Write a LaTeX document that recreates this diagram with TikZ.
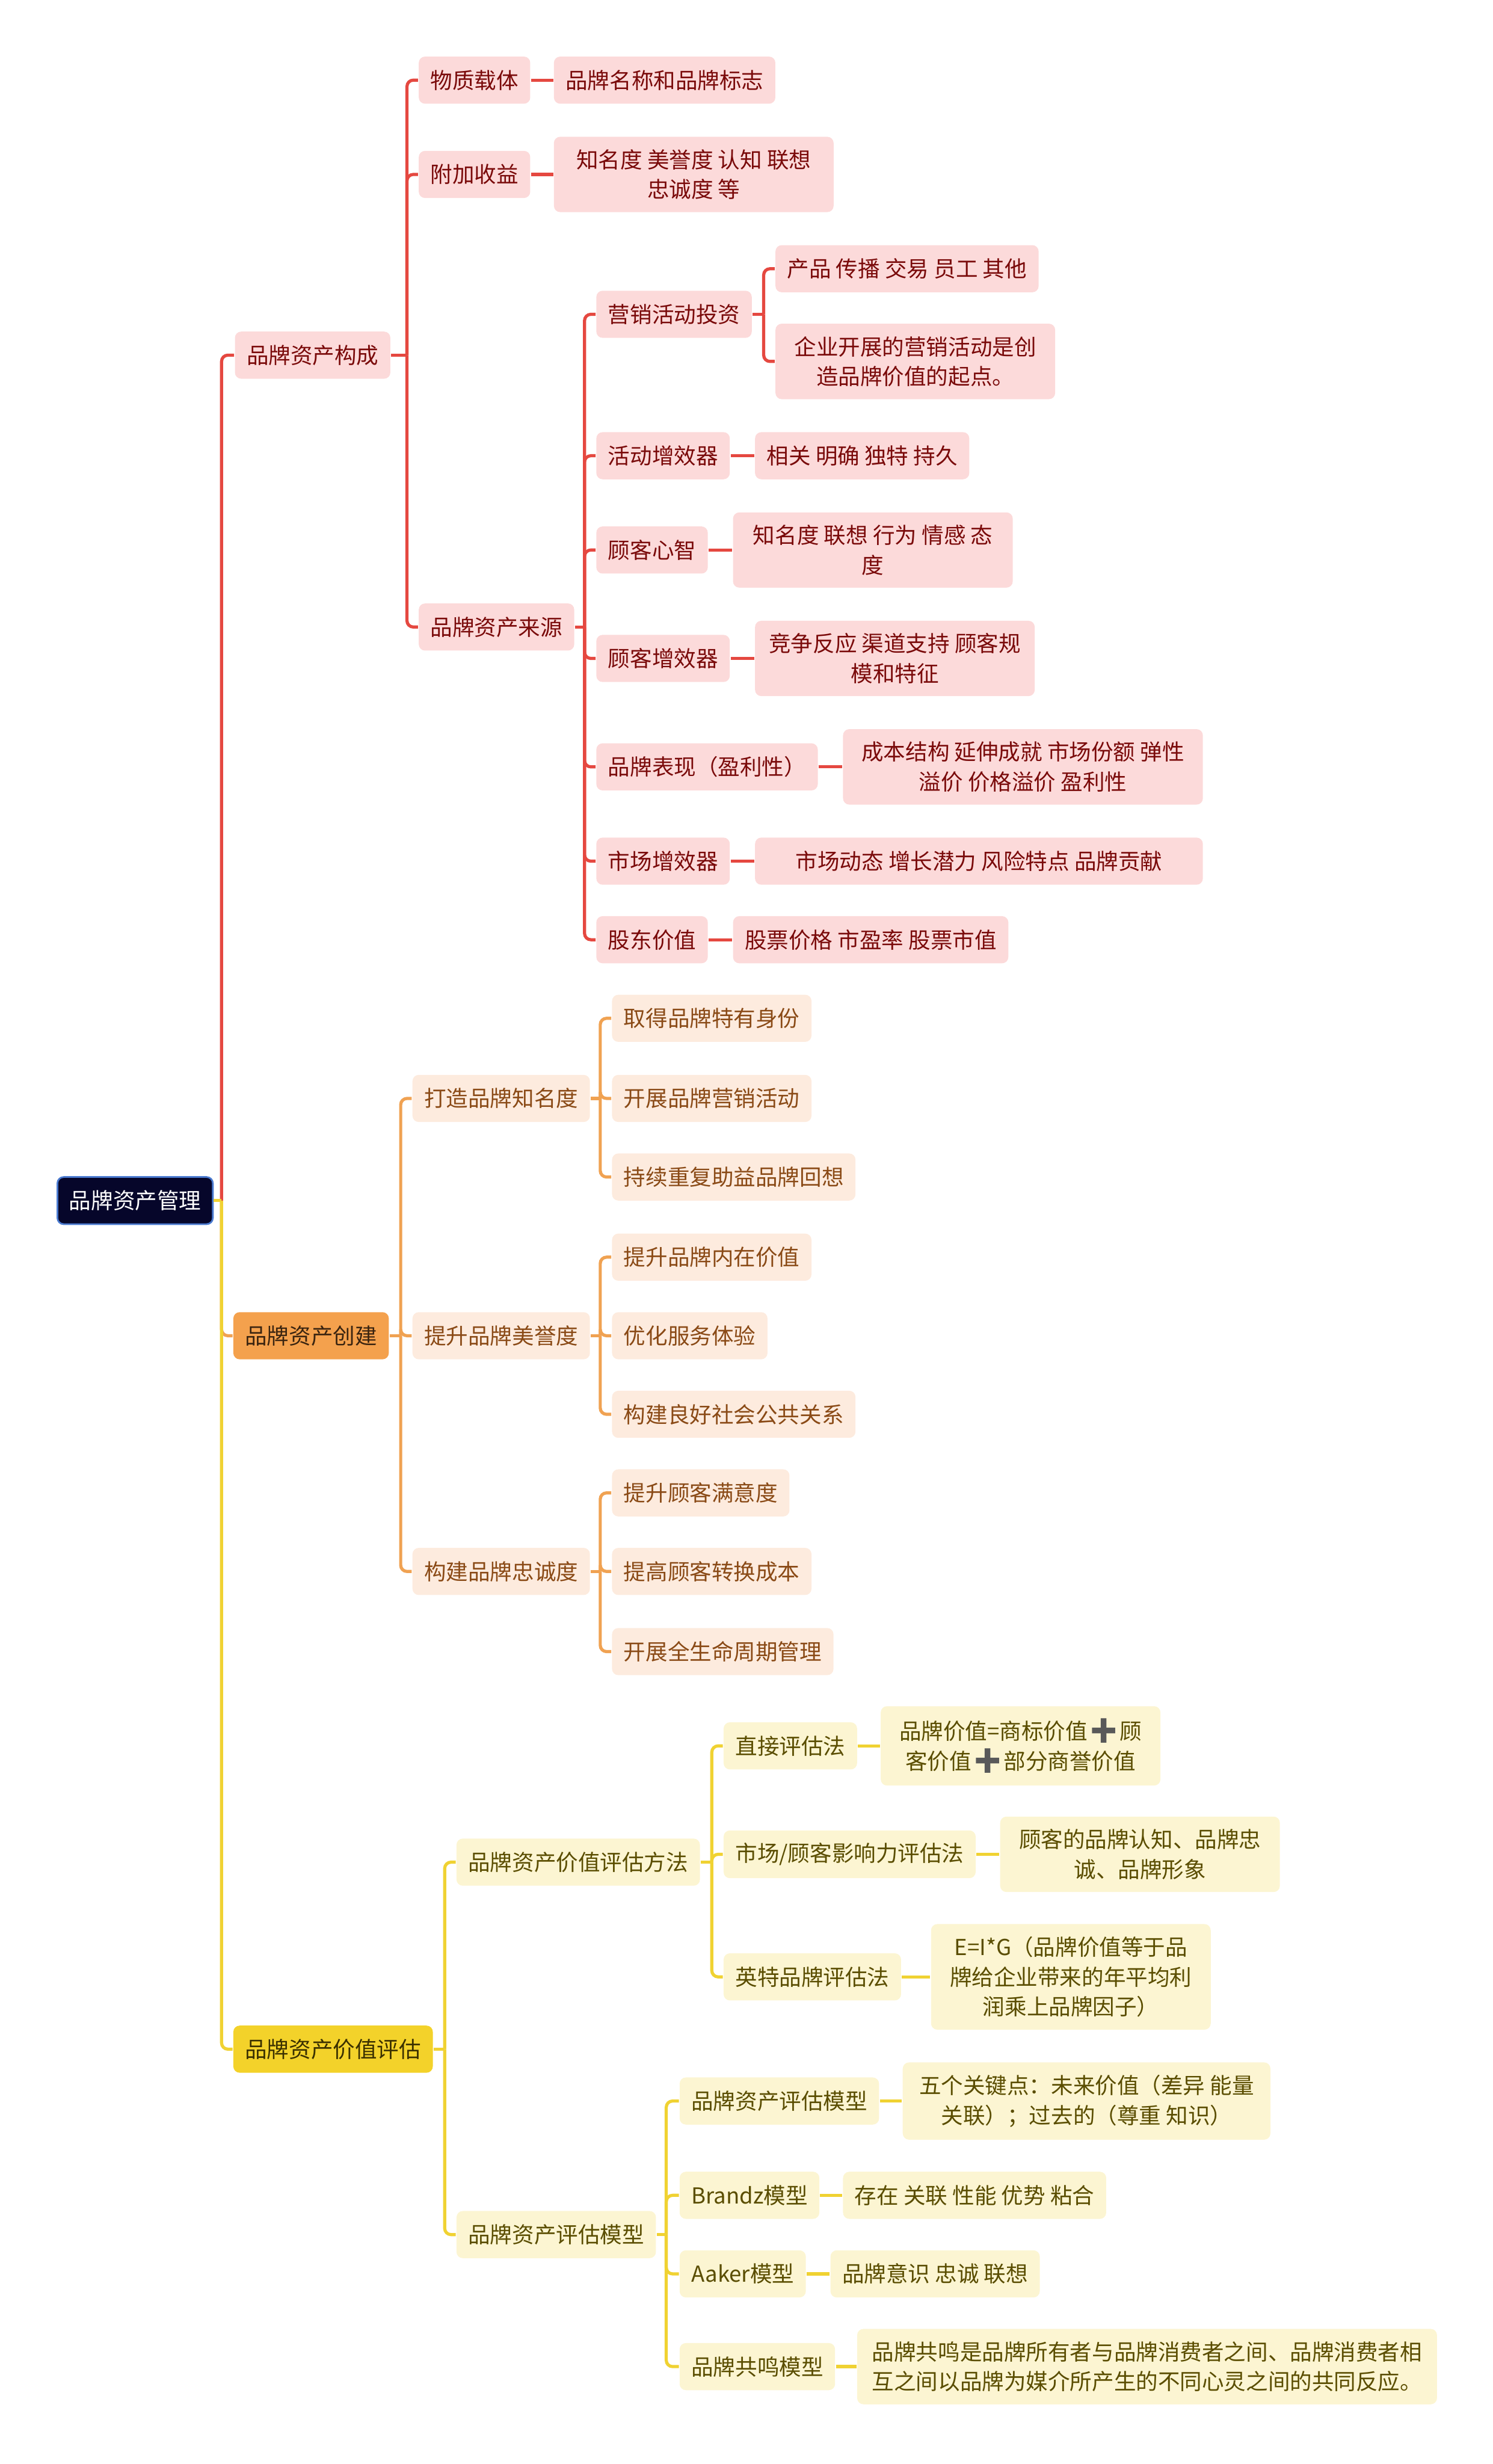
\documentclass[tikz,border=0pt]{standalone}
\usepackage{fontspec}
\usepackage{graphicx}
\setmainfont{Noto Sans CJK SC}
\newfontfamily\emojifont{Noto Emoji}
\newcommand{\plusmark}{{\emojifont\textcolor{gray!70!black}{\scalebox{1.15}{➕}}}}

\definecolor{rootfill}{RGB}{6,6,42}
\definecolor{rootdraw}{RGB}{74,122,208}
\definecolor{redline}{RGB}{229,72,64}
\definecolor{redfill}{RGB}{252,218,218}
\definecolor{redtext}{RGB}{122,10,10}
\definecolor{orgline}{RGB}{240,162,82}
\definecolor{orgmain}{RGB}{244,161,77}
\definecolor{orgfill}{RGB}{253,235,222}
\definecolor{orgtext}{RGB}{138,74,22}
\definecolor{orgdark}{RGB}{58,36,16}
\definecolor{yelline}{RGB}{240,210,50}
\definecolor{yelmain}{RGB}{243,210,42}
\definecolor{yelfill}{RGB}{252,245,210}
\definecolor{yeltext}{RGB}{90,77,0}
\definecolor{yeldark}{RGB}{58,48,0}

\tikzset{every picture/.style={line width=0.75pt}}
\tikzset{
  box/.style={rounded corners=3pt, inner xsep=5.6pt, inner ysep=6pt, minimum height=22.5pt,
    anchor=west, align=center, font=\fontsize{10.5pt}{14.2pt}\selectfont},
  rootbox/.style={box, fill=rootfill, draw=rootdraw, line width=0.8pt, text=white},
  redbox/.style={box, fill=redfill, text=redtext},
  orgtop/.style={box, fill=orgmain, text=orgdark},
  orgbox/.style={box, fill=orgfill, text=orgtext},
  yeltop/.style={box, fill=yelmain, text=yeldark},
  yelbox/.style={box, fill=yelfill, text=yeltext},
  rline/.style={draw=redline, line width=1.5pt, rounded corners=3pt},
  oline/.style={draw=orgline, line width=1.5pt, rounded corners=3pt},
  yline/.style={draw=yelline, line width=1.5pt, rounded corners=3pt},
}

\begin{document}
\begin{tikzpicture}[x=0.75pt,y=0.75pt,yscale=-1,xscale=1]
\useasboundingbox (0,0) rectangle (950,1568);

% root and main branches
\node[rootbox] (root) at (36,764) {品牌资产管理};
\node[redbox] (a1) at (149,226) {品牌资产构成};
\node[orgtop] (a2) at (148,850) {品牌资产创建};
\node[yeltop] (a3) at (148,1304) {品牌资产价值评估};

% 品牌资产构成
\node[redbox] (b1) at (266,51) {物质载体};
\node[redbox] (c1) at (352,51) {品牌名称和品牌标志};
\node[redbox] (b2) at (266,111) {附加收益};
\node[redbox, minimum width=133.5pt] (c2) at (352,111) {知名度 美誉度 认知 联想\\忠诚度 等};
\node[redbox] (b3) at (266,399) {品牌资产来源};
\node[redbox] (d1) at (379,200) {营销活动投资};
\node[redbox] (e1) at (493,171) {产品 传播 交易 员工 其他};
\node[redbox, minimum width=133.5pt] (e2) at (493,230) {企业开展的营销活动是创\\造品牌价值的起点。};
\node[redbox] (d2) at (379,290) {活动增效器};
\node[redbox] (e3) at (480,290) {相关 明确 独特 持久};
\node[redbox] (d3) at (379,350) {顾客心智};
\node[redbox, minimum width=133.5pt] (e4) at (466,350) {知名度 联想 行为 情感 态\\度};
\node[redbox] (d4) at (379,419) {顾客增效器};
\node[redbox, minimum width=133.5pt] (e5) at (480,419) {竞争反应 渠道支持 顾客规\\模和特征};
\node[redbox] (d5) at (379,488) {品牌表现（盈利性）};
\node[redbox, minimum width=171.75pt] (e6) at (536,488) {成本结构 延伸成就 市场份额 弹性\\溢价 价格溢价 盈利性};
\node[redbox] (d6) at (379,548) {市场增效器};
\node[redbox, minimum width=213.75pt] (e7) at (480,548) {市场动态 增长潜力 风险特点 品牌贡献};
\node[redbox] (d7) at (379,598) {股东价值};
\node[redbox] (e8) at (466,598) {股票价格 市盈率 股票市值};

% 品牌资产创建
\node[orgbox] (f1) at (262,699) {打造品牌知名度};
\node[orgbox] (f2) at (262,850) {提升品牌美誉度};
\node[orgbox] (f3) at (262,1000) {构建品牌忠诚度};
\node[orgbox] (g1) at (389,648) {取得品牌特有身份};
\node[orgbox] (g2) at (389,699) {开展品牌营销活动};
\node[orgbox] (g3) at (389,749) {持续重复助益品牌回想};
\node[orgbox] (g4) at (389,800) {提升品牌内在价值};
\node[orgbox] (g5) at (389,850) {优化服务体验};
\node[orgbox] (g6) at (389,900) {构建良好社会公共关系};
\node[orgbox] (g7) at (389,950) {提升顾客满意度};
\node[orgbox] (g8) at (389,1000) {提高顾客转换成本};
\node[orgbox] (g9) at (389,1051) {开展全生命周期管理};

% 品牌资产价值评估
\node[yelbox] (h1) at (290,1185) {品牌资产价值评估方法};
\node[yelbox] (h2) at (290,1422) {品牌资产评估模型};
\node[yelbox] (i1) at (460,1111) {直接评估法};
\node[yelbox, minimum width=133.5pt] (j1) at (560,1111) {品牌价值=商标价值\plusmark 顾\\客价值\plusmark 部分商誉价值};
\node[yelbox] (i2) at (460,1180) {市场/顾客影响力评估法};
\node[yelbox, minimum width=133.5pt] (j2) at (636,1180) {顾客的品牌认知、品牌忠\\诚、品牌形象};
\node[yelbox] (i3) at (460,1258) {英特品牌评估法};
\node[yelbox, minimum width=133.5pt] (j3) at (592,1258) {E=I*G（品牌价值等于品\\牌给企业带来的年平均利\\润乘上品牌因子）};
\node[yelbox] (k1) at (432,1337) {品牌资产评估模型};
\node[yelbox, minimum width=175.5pt] (l1) at (574,1337) {五个关键点：未来价值（差异 能量\\关联）；过去的（尊重 知识）};
\node[yelbox] (k2) at (432,1397) {Brandz模型};
\node[yelbox] (l2) at (536,1397) {存在 关联 性能 优势 粘合};
\node[yelbox] (k3) at (432,1447) {Aaker模型};
\node[yelbox] (l3) at (528,1447) {品牌意识 忠诚 联想};
\node[yelbox] (k4) at (432,1506) {品牌共鸣模型};
\node[yelbox, minimum width=276.75pt] (l4) at (545,1506) {品牌共鸣是品牌所有者与品牌消费者之间、品牌消费者相\\互之间以品牌为媒介所产生的不同心灵之间的共同反应。};

% junctions
\coordinate (j0) at (141,764);
\coordinate (ja1) at (259,226);
\coordinate (jb3) at (372,399);
\coordinate (jd1) at (486,200);
\coordinate (ja2) at (255,850);
\coordinate (jf1) at (382,699);
\coordinate (jf2) at (382,850);
\coordinate (jf3) at (382,1000);
\coordinate (ja3) at (283,1304);
\coordinate (jh1) at (453,1185);
\coordinate (jh2) at (424,1422);

% links
\draw[oline] (j0) |- (a2.west);
\draw[rline] (j0) |- (a1.west);
\draw[yline] (j0) |- (a3.west);
\draw[yline] (root.east) -- (j0);

\draw[rline] (a1.east) -- (ja1);
\foreach \n in {b1,b2,b3} \draw[rline] (ja1) |- (\n.west);
\draw[rline] (b1) -- (c1);
\draw[rline] (b2) -- (c2);
\draw[rline] (b3.east) -- (jb3);
\foreach \n in {d1,d2,d3,d4,d5,d6,d7} \draw[rline] (jb3) |- (\n.west);
\draw[rline] (d1.east) -- (jd1);
\foreach \n in {e1,e2} \draw[rline] (jd1) |- (\n.west);
\draw[rline] (d2) -- (e3);
\draw[rline] (d3) -- (e4);
\draw[rline] (d4) -- (e5);
\draw[rline] (d5) -- (e6);
\draw[rline] (d6) -- (e7);
\draw[rline] (d7) -- (e8);

\draw[oline] (a2.east) -- (ja2);
\foreach \n in {f1,f2,f3} \draw[oline] (ja2) |- (\n.west);
\draw[oline] (f1.east) -- (jf1);
\foreach \n in {g1,g2,g3} \draw[oline] (jf1) |- (\n.west);
\draw[oline] (f2.east) -- (jf2);
\foreach \n in {g4,g5,g6} \draw[oline] (jf2) |- (\n.west);
\draw[oline] (f3.east) -- (jf3);
\foreach \n in {g7,g8,g9} \draw[oline] (jf3) |- (\n.west);

\draw[yline] (a3.east) -- (ja3);
\foreach \n in {h1,h2} \draw[yline] (ja3) |- (\n.west);
\draw[yline] (h1.east) -- (jh1);
\foreach \n in {i1,i2,i3} \draw[yline] (jh1) |- (\n.west);
\draw[yline] (i1) -- (j1);
\draw[yline] (i2) -- (j2);
\draw[yline] (i3) -- (j3);
\draw[yline] (h2.east) -- (jh2);
\foreach \n in {k1,k2,k3,k4} \draw[yline] (jh2) |- (\n.west);
\draw[yline] (k1) -- (l1);
\draw[yline] (k2) -- (l2);
\draw[yline] (k3) -- (l3);
\draw[yline] (k4) -- (l4);

\end{tikzpicture}
\end{document}
